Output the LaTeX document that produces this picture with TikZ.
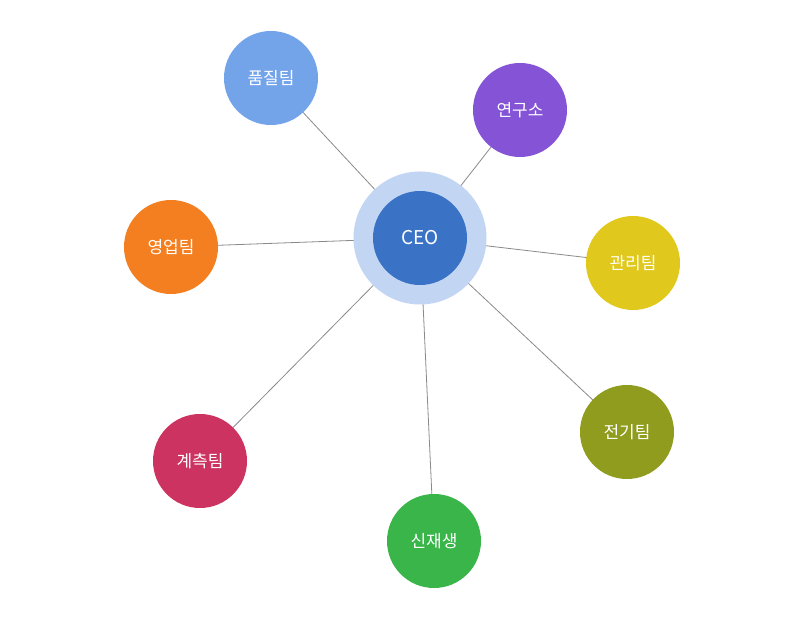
\documentclass[tikz,border=0pt]{standalone}
\usepackage{fontspec}
\setmainfont{Noto Sans CJK KR}
\usetikzlibrary{backgrounds}
\definecolor{cOuter}{HTML}{C2D6F3}
\definecolor{cCeo}{HTML}{3A72C6}
\definecolor{cQual}{HTML}{73A4EA}
\definecolor{cLab}{HTML}{8553D6}
\definecolor{cMgmt}{HTML}{E0C91C}
\definecolor{cElec}{HTML}{8F9C1E}
\definecolor{cRenew}{HTML}{39B54A}
\definecolor{cMeas}{HTML}{CC3360}
\definecolor{cSales}{HTML}{F37F20}
\definecolor{cLine}{HTML}{8A8A8A}
\begin{document}
\begin{tikzpicture}[x=1pt,y=1pt,
  leaf/.style={circle,minimum size=94pt,inner sep=0pt,text=white,font=\fontsize{17}{20}\selectfont},
  conn/.style={draw=cLine,line width=0.8pt}]
\useasboundingbox (0,0) rectangle (788,618);
\node[circle,fill=cOuter,minimum size=133pt,inner sep=0pt] (ring) at (420,380) {};
\node[leaf,fill=cCeo,font=\fontsize{19}{22}\selectfont] (ceo) at (ring.center) {CEO};
\node[leaf,fill=cQual] (q) at (271,540) {품질팀};
\node[leaf,fill=cLab] (l) at (520,508) {연구소};
\node[leaf,fill=cMgmt] (m) at (633,355) {관리팀};
\node[leaf,fill=cElec] (e) at (627,186) {전기팀};
\node[leaf,fill=cRenew] (r) at (434,77) {신재생};
\node[leaf,fill=cMeas] (k) at (200,157) {계측팀};
\node[leaf,fill=cSales] (s) at (171,371) {영업팀};
\begin{scope}[on background layer]
\fill[white] (0,0) rectangle (788,618);
\foreach \n in {q,l,m,e,r,k,s} {\draw[conn] (ring.center) -- (\n.center);}
\end{scope}
\end{tikzpicture}
\end{document}
